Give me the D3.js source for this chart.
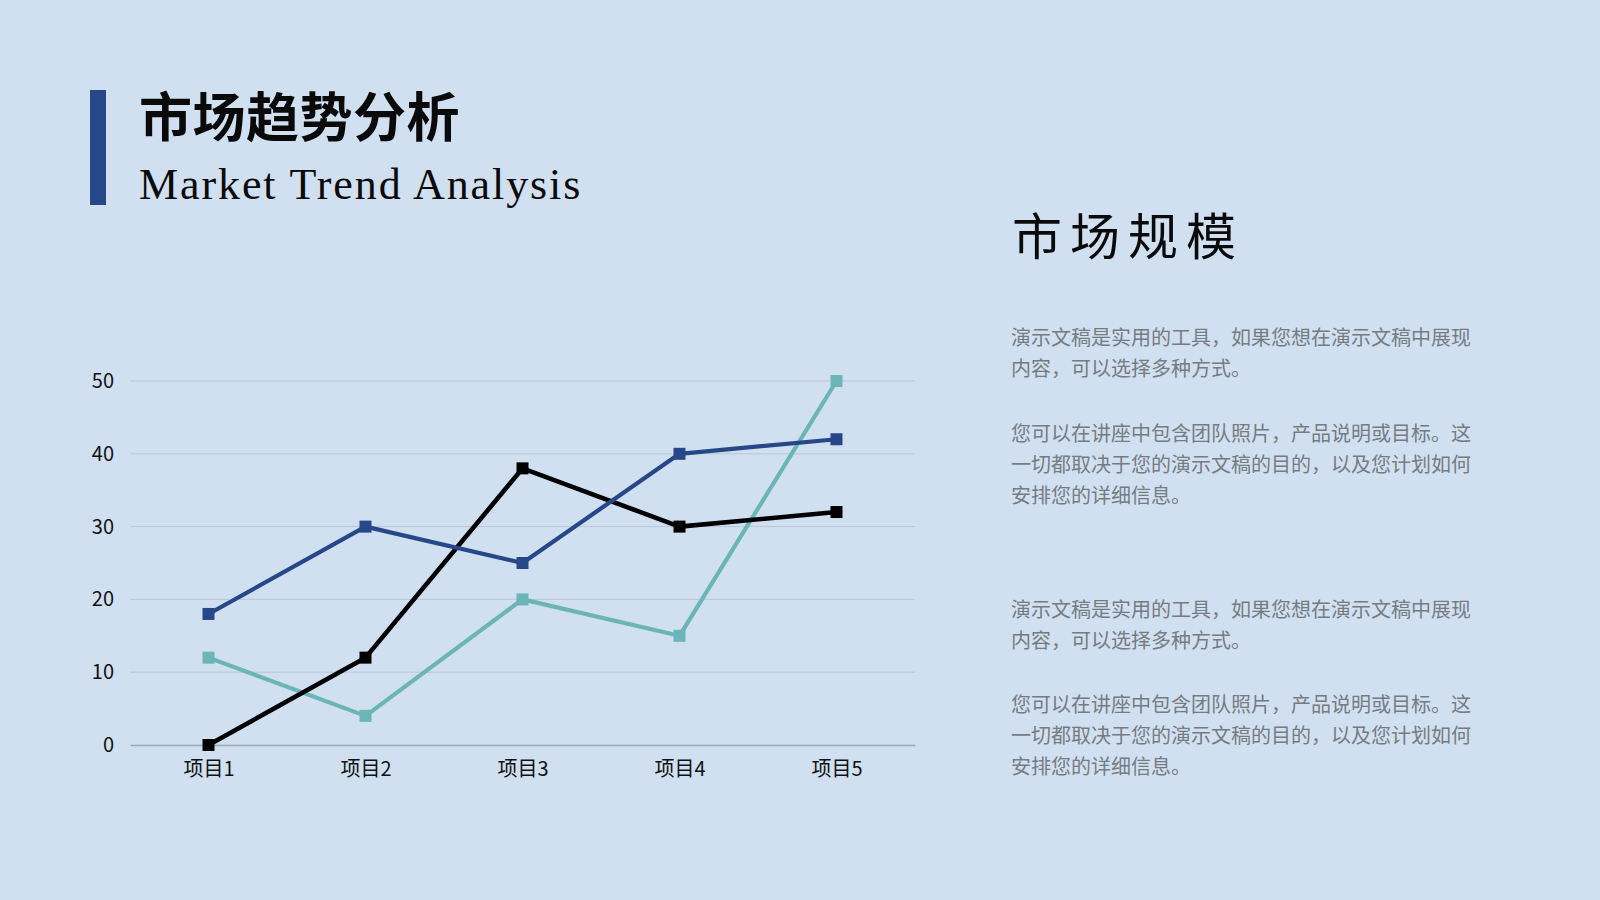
<!DOCTYPE html>
<html>
<head>
<meta charset="utf-8">
<script src="https://cdn.jsdelivr.net/npm/d3@7"></script>
<style>
  html, body { margin: 0; padding: 0; background: #d0e0f0; }
  svg { display: block; }
</style>
</head>
<body>
<div id="chart"></div>
<script>
// chart data
var categories = ['项目1', '项目2', '项目3', '项目4', '项目5'];
var seriesBlue = [18, 30, 25, 40, 42];
var seriesBlack = [0, 12, 38, 30, 32];
var seriesTeal = [12, 4, 20, 15, 50];
var yTicks = [0, 10, 20, 30, 40, 50];

var paragraphA = ['演示文稿是实用的工具，如果您想在演示文稿中展现', '内容，可以选择多种方式。'];
var paragraphB = ['您可以在讲座中包含团队照片，产品说明或目标。这', '一切都取决于您的演示文稿的目的，以及您计划如何', '安排您的详细信息。'];

var cjk = '"Noto Sans CJK SC", "Noto Sans", sans-serif';

var svg = d3.select('#chart').append('svg')
  .attr('width', 1600)
  .attr('height', 900);

svg.append('rect')
  .attr('width', 1600).attr('height', 900)
  .style('fill', '#d0e0f0');

// header
svg.append('rect')
  .attr('x', 90).attr('y', 90)
  .attr('width', 16).attr('height', 115)
  .style('fill', '#264888');

svg.append('text')
  .attr('x', 139).attr('y', 137)
  .style('font-family', cjk)
  .style('font-weight', 700)
  .style('font-size', '53px')
  .style('letter-spacing', '0.5px')
  .style('fill', '#0a0a0a')
  .text('市场趋势分析');

svg.append('text')
  .attr('x', 139).attr('y', 199)
  .style('font-family', '"Liberation Serif", "DejaVu Serif", serif')
  .style('font-size', '44px')
  .style('letter-spacing', '1.9px')
  .style('fill', '#0a0a0a')
  .text('Market Trend Analysis');

// chart
var x = d3.scalePoint()
  .domain(categories)
  .range([130, 915])
  .padding(0.5);

var y = d3.scaleLinear()
  .domain([0, 50])
  .range([745, 381]);

var g = svg.append('g');

// gridlines
g.append('g')
  .selectAll('line')
  .data(yTicks.filter(function(d) { return d > 0; }))
  .enter().append('line')
  .attr('x1', 130).attr('x2', 915)
  .attr('y1', function(d) { return y(d); })
  .attr('y2', function(d) { return y(d); })
  .style('stroke', '#b9c6d8')
  .style('stroke-width', 1);

var yAxis = g.append('g')
  .attr('transform', 'translate(130,0)')
  .call(d3.axisLeft(y).tickValues(yTicks).tickSize(0).tickPadding(16));
yAxis.select('.domain').remove();
yAxis.selectAll('text')
  .style('font-family', cjk)
  .style('font-size', '20px')
  .style('fill', '#111');

var xAxis = g.append('g')
  .attr('transform', 'translate(0,' + y(0) + ')')
  .call(d3.axisBottom(x).tickSize(0).tickPadding(17).tickSizeOuter(0));
xAxis.select('.domain')
  .style('stroke', '#9aa6b6')
  .style('stroke-width', 1.5);
xAxis.selectAll('text')
  .style('font-family', cjk)
  .style('font-size', '20px')
  .style('fill', '#111');

var series = [
  { values: seriesTeal, color: '#6bb5b8', width: 4.2 },
  { values: seriesBlack, color: '#000000', width: 4.6 },
  { values: seriesBlue, color: '#264888', width: 4.2 }
];

var line = d3.line()
  .x(function(d, i) { return x(categories[i]); })
  .y(function(d) { return y(d); });

var markSize = 12;
series.forEach(function(s) {
  g.append('path')
    .datum(s.values)
    .attr('d', line)
    .style('fill', 'none')
    .style('stroke', s.color)
    .style('stroke-width', s.width)
    .style('stroke-linejoin', 'round');
  g.append('g')
    .selectAll('rect')
    .data(s.values)
    .enter().append('rect')
    .attr('x', function(d, i) { return x(categories[i]) - markSize / 2; })
    .attr('y', function(d) { return y(d) - markSize / 2; })
    .attr('width', markSize)
    .attr('height', markSize)
    .style('fill', s.color);
});

// right column
svg.append('text')
  .attr('x', 1012).attr('y', 255)
  .style('font-family', cjk)
  .style('font-size', '50px')
  .style('letter-spacing', '8px')
  .style('fill', '#0a0a0a')
  .text('市场规模');

function paragraphBlock(lines, top) {
  svg.append('g')
    .selectAll('text')
    .data(lines)
    .enter().append('text')
    .attr('x', 1011)
    .attr('y', function(d, i) { return top + i * 30.8; })
    .style('font-family', cjk)
    .style('font-size', '20px')
    .style('fill', '#767b82')
    .text(function(d) { return d; });
}

paragraphBlock(paragraphA, 345);
paragraphBlock(paragraphB, 441);
paragraphBlock(paragraphA, 617);
paragraphBlock(paragraphB, 712);
</script>
</body>
</html>
